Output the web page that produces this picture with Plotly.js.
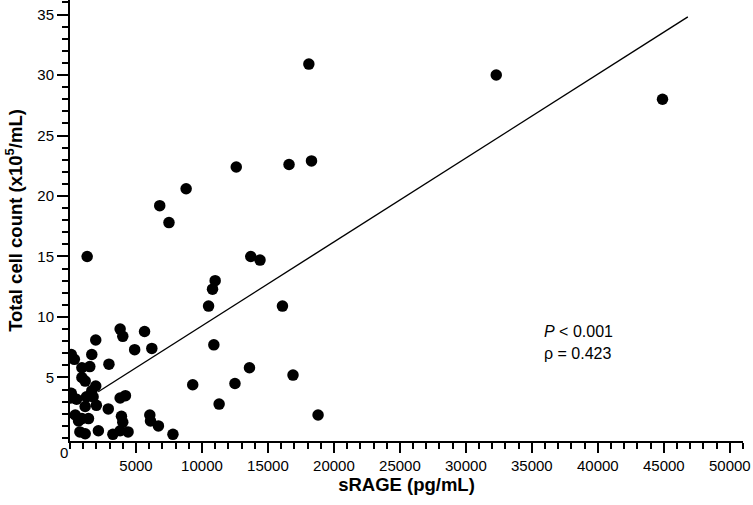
<!DOCTYPE html>
<html>
<head>
<meta charset="utf-8">
<script src="https://cdn.plot.ly/plotly-3.0.1.min.js"></script>
<style>html,body{margin:0;padding:0;background:#fff;}#chart{width:753px;height:505px;}</style>
</head>
<body>
<div id="chart"></div>
<script>
// sRAGE (pg/mL)
const sRAGE = [18100, 32300, 44900, 12600, 16600, 18300, 8800, 6800, 7500, 1300,
  13700, 14400, 11000, 10800, 10500, 16100, 10900, 13600, 12500, 9300,
  16900, 11300, 18800,
  3800, 4000, 1950, 5650, 4900, 6200, 2950, 1650, 100, 330,
  900, 1500, 900, 1150, 1950, 1650, 100, 50, 500, 1250,
  1750, 2000, 2900, 3800, 4200, 1150, 400, 900, 1400, 650,
  3900, 4000, 6050, 6100, 6700, 7800, 750, 1150, 2150, 3250, 3800, 4400];
// Total cell count (x10^5/mL)
const cellCount = [30.9, 30.0, 28.0, 22.4, 22.6, 22.9, 20.6, 19.2, 17.8, 15.0,
  15.0, 14.7, 13.0, 12.3, 10.9, 10.9, 7.7, 5.8, 4.5, 4.4,
  5.2, 2.8, 1.9,
  9.0, 8.4, 8.1, 8.8, 7.3, 7.4, 6.1, 6.9, 6.9, 6.5,
  5.8, 5.9, 5.0, 4.7, 4.3, 3.9, 3.7, 3.3, 3.2, 3.4,
  3.4, 2.7, 2.4, 3.3, 3.5, 2.6, 1.9, 1.6, 1.6, 1.4,
  1.8, 1.3, 1.9, 1.4, 1.0, 0.3, 0.5, 0.35, 0.6, 0.3, 0.6, 0.5];
// regression line end points
const fitX = [2140, 46820];
const fitY = [3.82, 34.8];
// ticks
const xTickVals = [5000, 10000, 15000, 20000, 25000, 30000, 35000, 40000, 45000, 50000];
const xTickText = ['5000', '10000', '15000', '20000', '25000', '30000', '35000', '40000', '45000', '50000'];
const yTickVals = [5, 10, 15, 20, 25, 30, 35];
const yTickText = ['5', '10', '15', '20', '25', '30', '35'];

const font = 'Liberation Sans, Arial, sans-serif';

const traces = [
  {
    x: fitX, y: fitY, type: 'scatter', mode: 'lines',
    line: {color: '#000', width: 1.4}, hoverinfo: 'skip', showlegend: false
  },
  {
    x: sRAGE, y: cellCount, type: 'scatter', mode: 'markers',
    marker: {color: '#000', size: 11.5, line: {width: 0}}, showlegend: false
  }
];

const layout = {
  width: 753, height: 505,
  margin: {l: 70, r: 10, t: 0, b: 64},
  paper_bgcolor: '#fff', plot_bgcolor: '#fff',
  font: {family: font, color: '#000', size: 15},
  showlegend: false,
  xaxis: {
    range: [0, 51000], showgrid: false, zeroline: false,
    showline: true, linecolor: '#000', linewidth: 2,
    ticks: 'outside', ticklen: 10, tickwidth: 2, tickcolor: '#000',
    tickmode: 'array', tickvals: xTickVals, ticktext: xTickText,
    tickfont: {family: font, size: 15, color: '#000'},
    minor: {dtick: 1000, tick0: 0, ticks: 'outside', ticklen: 6, tickwidth: 2, tickcolor: '#000', showgrid: false},
    title: {text: '<b>sRAGE (pg/mL)</b>', font: {family: font, size: 18.5, color: '#000'}, standoff: 5}
  },
  yaxis: {
    range: [-0.25, 36.2], showgrid: false, zeroline: false,
    showline: true, linecolor: '#000', linewidth: 2,
    ticks: 'outside', ticklen: 11, tickwidth: 2, tickcolor: '#000',
    tickmode: 'array', tickvals: yTickVals, ticktext: yTickText,
    tickfont: {family: font, size: 15, color: '#000'},
    minor: {dtick: 1, tick0: 0, ticks: 'outside', ticklen: 6, tickwidth: 2, tickcolor: '#000', showgrid: false},
    title: {text: '<b>Total cell count (x10<sup>5</sup>/mL)</b>', font: {family: font, size: 18.5, color: '#000'}, standoff: 10}
  },
  annotations: [
    {xref: 'x', yref: 'y', x: 0, y: -0.25, text: '0', showarrow: false,
     xanchor: 'center', yanchor: 'top', xshift: -6, yshift: -1, font: {family: font, size: 15, color: '#000'}},
    {xref: 'x', yref: 'y', x: 35800, y: 8.8, text: '<i>P</i> &lt; 0.001', showarrow: false,
     xanchor: 'left', yanchor: 'middle', font: {family: font, size: 16, color: '#000'}},
    {xref: 'x', yref: 'y', x: 35800, y: 7.0, text: 'ρ = 0.423', showarrow: false,
     xanchor: 'left', yanchor: 'middle', font: {family: font, size: 16, color: '#000'}}
  ]
};

Plotly.newPlot('chart', traces, layout, {staticPlot: true, displayModeBar: false});
</script>
</body>
</html>
